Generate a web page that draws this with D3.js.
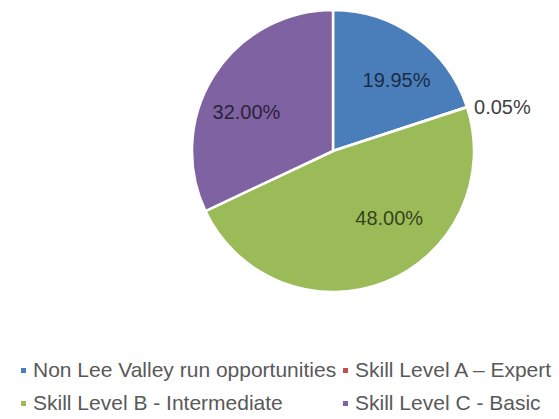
<!DOCTYPE html>
<html>
<head>
<meta charset="utf-8">
<script src="https://cdn.jsdelivr.net/npm/d3@7"></script>
<style>
  html, body { margin: 0; padding: 0; background: #fff; }
  svg { display: block; font-family: "Liberation Sans", Arial, sans-serif; }
</style>
</head>
<body>
<svg id="chart" width="559" height="419"></svg>
<script>
// Share of opportunities by skill level
const categories = [
  "Non Lee Valley run opportunities",
  "Skill Level A \u2013 Expert",
  "Skill Level B - Intermediate",
  "Skill Level C - Basic"
];
const values = [19.95, 0.05, 48.00, 32.00];
const colors = ["#4a7ebb", "#c0504d", "#9bbb59", "#7f62a1"];

const svg = d3.select("#chart");
const cx = 333, cy = 151, radius = 141;

const pie = d3.pie().sort(null).value(d => d.value);
const arcs = pie(categories.map((c, i) => ({ name: c, value: values[i], color: colors[i] })));

const arc = d3.arc().innerRadius(0).outerRadius(radius);
const labelArc = d3.arc().innerRadius(93).outerRadius(93);

const g = svg.append("g").attr("transform", `translate(${cx},${cy})`);

g.selectAll("path.slice")
  .data(arcs)
  .join("path")
  .attr("class", "slice")
  .attr("d", arc)
  .attr("fill", d => d.data.color)
  .attr("stroke", "#fff")
  .attr("stroke-width", 2.5)
  .attr("stroke-linejoin", "round");

const fmt = v => d3.format(".2f")(v) + "%";

// Label placement nudges (best-fit style); the tiny slice gets an outside label
const nudges = [[9, 4], null, [22, -19], [-8, 11]];

arcs.forEach((d, i) => {
  if (d.data.value < 1) {
    const a = (d.startAngle + d.endAngle) / 2;
    const ex = Math.sin(a) * radius, ey = -Math.cos(a) * radius;
    g.append("text")
      .attr("x", ex + 7)
      .attr("y", ey + 7)
      .attr("text-anchor", "start")
      .attr("font-size", 20)
      .attr("fill", "#404040")
      .text(fmt(d.data.value));
  } else {
    const [x, y] = labelArc.centroid(d);
    const [nx, ny] = nudges[i];
    g.append("text")
      .attr("x", x + nx)
      .attr("y", y + ny)
      .attr("dy", "0.35em")
      .attr("text-anchor", "middle")
      .attr("font-size", 20)
      .attr("fill", "#000")
      .attr("fill-opacity", 0.68)
      .text(fmt(d.data.value));
  }
});

// Legend: two columns, two rows
const colX = [33, 355];
const rowY = [377, 410];
const legend = svg.append("g");
const items = legend.selectAll("g.item")
  .data(categories.map((c, i) => ({ name: c, color: colors[i], i })))
  .join("g")
  .attr("class", "item")
  .attr("transform", d => `translate(${colX[d.i % 2]},${rowY[Math.floor(d.i / 2)]})`);

items.append("rect")
  .attr("x", -12)
  .attr("y", -9)
  .attr("width", 5)
  .attr("height", 5)
  .attr("fill", d => d.color);

items.append("text")
  .attr("x", 0)
  .attr("y", 0)
  .attr("font-size", 21)
  .attr("fill", "#595959")
  .text(d => d.name);
</script>
</body>
</html>
